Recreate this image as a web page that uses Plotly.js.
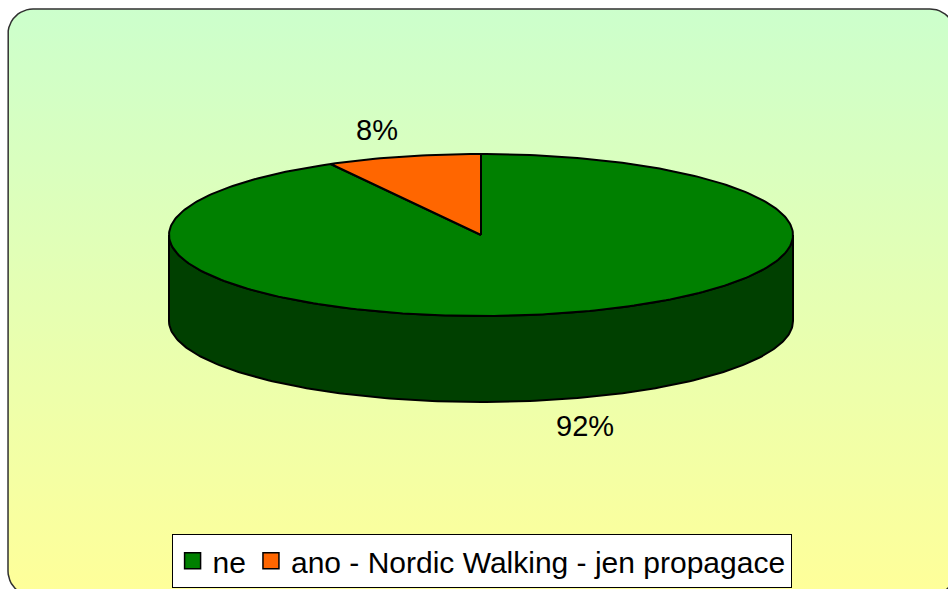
<!DOCTYPE html>
<html>
<head>
<meta charset="utf-8">
<script src="https://cdn.plot.ly/plotly-3.0.1.min.js"></script>
<style>
  html, body { margin: 0; padding: 0; background: #ffffff; }
  #chart { width: 948px; height: 589px; }
</style>
</head>
<body>
<div id="chart"></div>
<script>
// ---- data ----
const categories = ['ne', 'ano - Nordic Walking - jen propagace'];
const values = [92, 8];
const topColors = ['#008000', '#ff6600'];
const sideColors = ['#004000', '#993d00'];

// ---- geometry (pixel-like units on fixed axes) ----
const W = 948, H = 589;
const CX = 481, CY = 235, RX = 312, RY = 81, DEPTH = 86;
const LABEL_K = 1.34;
const FONT = 'Arial, "Liberation Sans", sans-serif';

function pt(deg, off) {
  const r = deg * Math.PI / 180;
  return [CX + RX * Math.cos(r), CY - RY * Math.sin(r) + (off || 0)];
}
function arc(a, b, off) {
  const xs = [], ys = [];
  const n = Math.max(2, Math.ceil(Math.abs(b - a)));
  for (let i = 0; i <= n; i++) {
    const p = pt(a + (b - a) * i / n, off);
    xs.push(p[0]); ys.push(p[1]);
  }
  return [xs, ys];
}

const total = values.reduce((s, v) => s + v, 0);
const slices = [];
let cum = 0;
values.forEach((v, i) => {
  const start = 90 - 360 * cum / total;
  cum += v;
  const end = 90 - 360 * cum / total;
  slices.push({ start, end, i });
});

const traces = [];

// background rounded panel with vertical gradient
(function () {
  const x0 = 8, y0 = 9, x1 = 955, y1 = 596, r = 25;
  const xs = [], ys = [];
  const corners = [[x1 - r, y0 + r, 90, 0], [x1 - r, y1 - r, 0, -90], [x0 + r, y1 - r, -90, -180], [x0 + r, y0 + r, 180, 90]];
  corners.forEach(c => {
    for (let k = 0; k <= 12; k++) {
      const a = (c[2] + (c[3] - c[2]) * k / 12) * Math.PI / 180;
      xs.push(c[0] + r * Math.cos(a)); ys.push(c[1] - r * Math.sin(a));
    }
  });
  xs.push(xs[0]); ys.push(ys[0]);
  traces.push({
    type: 'scatter', mode: 'lines', x: xs, y: ys, fill: 'toself',
    fillgradient: { type: 'vertical', colorscale: [[0, '#ffff99'], [1, '#ccffcc']], start: y1, stop: y0 },
    line: { color: '#303030', width: 1.5 }, hoverinfo: 'skip', showlegend: false
  });
})();

// visible side pieces (front half: 180..360 deg)
slices.forEach(s => {
  const lo = s.end, hi = s.start;
  for (let k = -1; k <= 1; k++) {
    const a = Math.max(lo + 360 * k, 180), b = Math.min(hi + 360 * k, 360);
    if (b > a) {
      const top = arc(a, b, 0), bot = arc(b, a, DEPTH);
      const xs = top[0].concat(bot[0]); const ys = top[1].concat(bot[1]);
      xs.push(xs[0]); ys.push(ys[0]);
      traces.push({
        type: 'scatter', mode: 'lines', x: xs, y: ys, fill: 'toself',
        fillcolor: sideColors[s.i], line: { color: '#000000', width: 2 },
        hoverinfo: 'skip', showlegend: false
      });
    }
  }
});

// top faces
slices.forEach(s => {
  const a = arc(s.start, s.end, 0);
  const xs = [CX].concat(a[0], [CX]);
  const ys = [CY].concat(a[1], [CY]);
  traces.push({
    type: 'scatter', mode: 'lines', x: xs, y: ys, fill: 'toself',
    fillcolor: topColors[s.i], line: { color: '#000000', width: 2 },
    hoverinfo: 'skip', showlegend: false
  });
});

// legend entries
categories.forEach((c, i) => {
  traces.push({
    type: 'scatter', mode: 'markers', x: [-100], y: [-100], name: c,
    marker: { symbol: 'square', size: 16, color: topColors[i], line: { color: '#000000', width: 1.5 } },
    hoverinfo: 'skip', showlegend: true
  });
});

// percentage labels
const annotations = slices.map(s => {
  const mid = (s.start + s.end) / 2;
  const r = mid * Math.PI / 180;
  const x = CX + LABEL_K * RX * Math.cos(r);
  let y = CY - LABEL_K * RY * Math.sin(r);
  if (Math.sin(r) < 0) y += DEPTH;
  return {
    x: x, y: y, xref: 'x', yref: 'y', showarrow: false,
    text: Math.round(100 * values[s.i] / total) + '%',
    font: { family: FONT, size: 29, color: '#000000' }
  };
});

const layout = {
  width: W, height: H,
  margin: { l: 0, r: 0, t: 0, b: 0, pad: 0 },
  paper_bgcolor: '#ffffff', plot_bgcolor: 'rgba(0,0,0,0)',
  xaxis: { range: [0, W], visible: false, fixedrange: true },
  yaxis: { range: [H, 0], visible: false, fixedrange: true },
  showlegend: true,
  legend: {
    orientation: 'h', x: 0.508, xanchor: 'center', y: 0.002, yanchor: 'bottom',
    bgcolor: '#ffffff', bordercolor: '#000000', borderwidth: 1,
    font: { family: FONT, size: 30, color: '#000000' },
    itemwidth: 30, tracegroupgap: 0
  },
  annotations: annotations,
  hovermode: false
};

Plotly.newPlot('chart', traces, layout, { displayModeBar: false, staticPlot: true });
</script>
</body>
</html>
